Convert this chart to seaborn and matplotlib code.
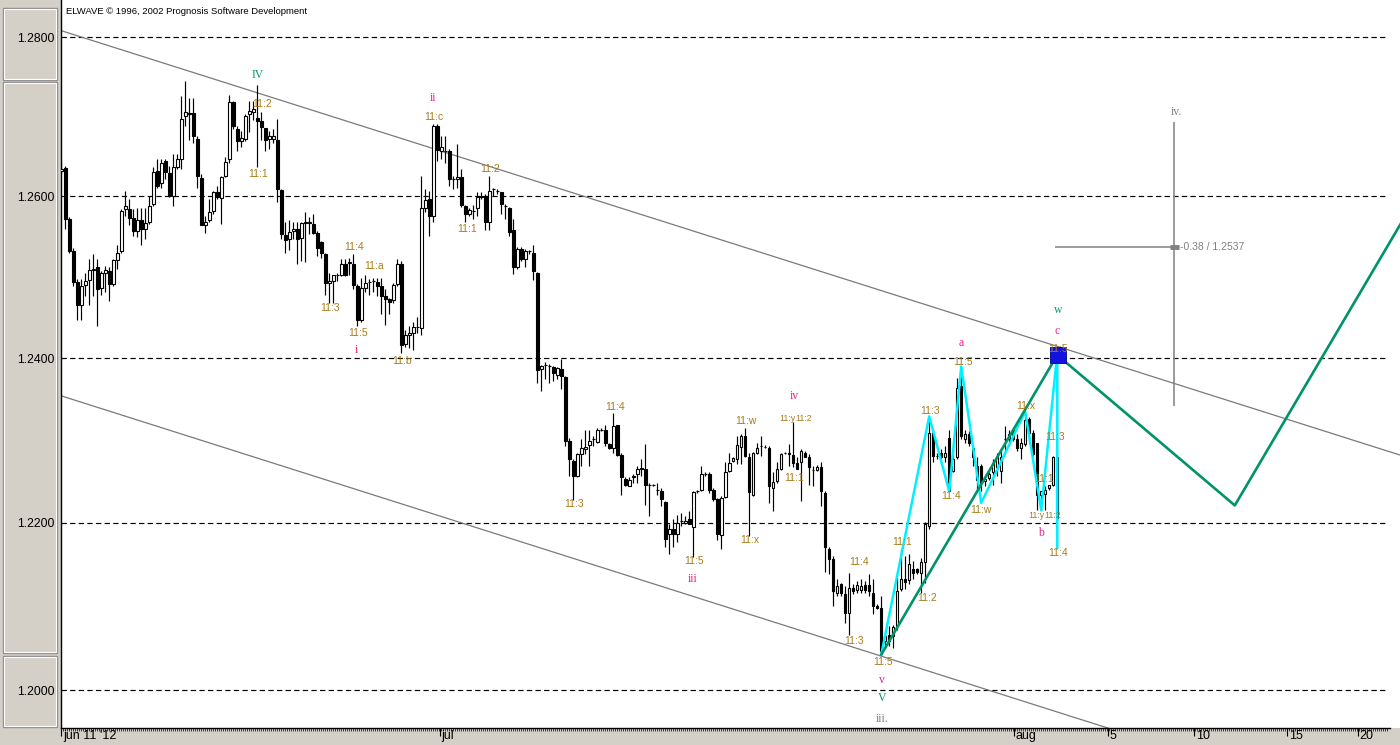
import numpy as np
import pandas as pd
import matplotlib
matplotlib.use("Agg")
import matplotlib.pyplot as plt
import seaborn as sns
from matplotlib.ticker import FixedLocator, FixedFormatter, NullLocator, NullFormatter
from matplotlib.patches import Rectangle
from matplotlib.transforms import ScaledTranslation

sns.set_theme(style="white")
plt.rcParams['font.family'] = ['Liberation Sans', 'DejaVu Sans']

# ---------------- data (4-hour EUR/USD candles) ----------------
opens = [
    1.2631, 1.2635, 1.2572, 1.2532, 1.2494, 1.2466, 1.2490, 1.2496, 1.2509, 1.2512,
    1.2486, 1.2505, 1.2508, 1.2491, 1.2521, 1.2532, 1.2584, 1.2584, 1.2573, 1.2557,
    1.2570, 1.2559, 1.2568, 1.2590, 1.2631, 1.2617, 1.2644, 1.2629, 1.2600, 1.2637,
    1.2646, 1.2700, 1.2704, 1.2704, 1.2672, 1.2623, 1.2564, 1.2570, 1.2582, 1.2605,
    1.2598, 1.2626, 1.2646, 1.2718, 1.2684, 1.2669, 1.2672, 1.2703, 1.2705, 1.2698,
    1.2694, 1.2686, 1.2672, 1.2672, 1.2671, 1.2608, 1.2552, 1.2547, 1.2557, 1.2559,
    1.2548, 1.2567, 1.2567, 1.2566, 1.2555, 1.2543, 1.2529, 1.2493, 1.2495, 1.2502,
    1.2503, 1.2516, 1.2517, 1.2516, 1.2489, 1.2447, 1.2487, 1.2494, 1.2495, 1.2494,
    1.2489, 1.2476, 1.2473, 1.2471, 1.2491, 1.2516, 1.2417, 1.2428, 1.2431, 1.2438,
    1.2437, 1.2586, 1.2597, 1.2576, 1.2688, 1.2657, 1.2657, 1.2656, 1.2622, 1.2622,
    1.2624, 1.2588, 1.2578, 1.2582, 1.2585, 1.2599, 1.2601, 1.2568, 1.2609, 1.2607,
    1.2605, 1.2588, 1.2585, 1.2558, 1.2512, 1.2535, 1.2522, 1.2532, 1.2530, 1.2505,
    1.2387, 1.2392, 1.2391, 1.2389, 1.2380, 1.2387, 1.2377, 1.2299, 1.2275, 1.2257,
    1.2283, 1.2289, 1.2294, 1.2301, 1.2298, 1.2313, 1.2313, 1.2295, 1.2291, 1.2318,
    1.2282, 1.2253, 1.2245, 1.2255, 1.2259, 1.2265, 1.2265, 1.2246, 1.2246, 1.2240,
    1.2238, 1.2225, 1.2187, 1.2192, 1.2186, 1.2202, 1.2200, 1.2204, 1.2195, 1.2238,
    1.2240, 1.2259, 1.2259, 1.2240, 1.2229, 1.2185, 1.2231, 1.2263, 1.2275, 1.2277,
    1.2292, 1.2305, 1.2280, 1.2234, 1.2285, 1.2293, 1.2292, 1.2291, 1.2242, 1.2250,
    1.2265, 1.2284, 1.2285, 1.2282, 1.2272, 1.2273, 1.2285, 1.2279, 1.2264, 1.2264,
    1.2267, 1.2236, 1.2169, 1.2156, 1.2116, 1.2126, 1.2114, 1.2092, 1.2122, 1.2119,
    1.2119, 1.2125, 1.2125, 1.2116, 1.2100, 1.2098, 1.2058, 1.2065, 1.2064, 1.2076,
    1.2120, 1.2133, 1.2131, 1.2144, 1.2144, 1.2140, 1.2153, 1.2196, 1.2309, 1.2281,
    1.2284, 1.2279, 1.2303, 1.2263, 1.2279, 1.2366, 1.2301, 1.2308, 1.2291, 1.2269,
    1.2269, 1.2250, 1.2254, 1.2261, 1.2267, 1.2263, 1.2301, 1.2301, 1.2313, 1.2302,
    1.2291, 1.2295, 1.2326, 1.2309, 1.2296, 1.2234, 1.2235, 1.2242, 1.2246, 1.2279,
]
highs = [
    1.2644, 1.2638, 1.2574, 1.2536, 1.2497, 1.2497, 1.2505, 1.2522, 1.2528, 1.2522,
    1.2507, 1.2514, 1.2512, 1.2522, 1.2539, 1.2584, 1.2607, 1.2597, 1.2584, 1.2586,
    1.2586, 1.2586, 1.2601, 1.2636, 1.2646, 1.2646, 1.2646, 1.2638, 1.2653, 1.2653,
    1.2725, 1.2744, 1.2723, 1.2723, 1.2676, 1.2628, 1.2576, 1.2597, 1.2607, 1.2613,
    1.2626, 1.2649, 1.2727, 1.2719, 1.2688, 1.2682, 1.2703, 1.2719, 1.2719, 1.2739,
    1.2705, 1.2686, 1.2682, 1.2684, 1.2697, 1.2609, 1.2568, 1.2570, 1.2568, 1.2568,
    1.2568, 1.2580, 1.2574, 1.2578, 1.2557, 1.2544, 1.2530, 1.2505, 1.2503, 1.2505,
    1.2522, 1.2522, 1.2523, 1.2528, 1.2491, 1.2499, 1.2503, 1.2497, 1.2499, 1.2499,
    1.2499, 1.2485, 1.2474, 1.2493, 1.2522, 1.2520, 1.2435, 1.2439, 1.2445, 1.2451,
    1.2626, 1.2609, 1.2607, 1.2690, 1.2690, 1.2676, 1.2676, 1.2659, 1.2626, 1.2665,
    1.2634, 1.2589, 1.2585, 1.2589, 1.2605, 1.2605, 1.2603, 1.2626, 1.2611, 1.2609,
    1.2606, 1.2591, 1.2587, 1.2572, 1.2537, 1.2537, 1.2535, 1.2533, 1.2539, 1.2506,
    1.2392, 1.2395, 1.2393, 1.2390, 1.2389, 1.2399, 1.2378, 1.2303, 1.2277, 1.2285,
    1.2301, 1.2313, 1.2313, 1.2305, 1.2315, 1.2315, 1.2319, 1.2296, 1.2333, 1.2319,
    1.2285, 1.2255, 1.2255, 1.2259, 1.2269, 1.2277, 1.2295, 1.2248, 1.2247, 1.2248,
    1.2242, 1.2226, 1.2198, 1.2204, 1.2210, 1.2212, 1.2208, 1.2214, 1.2238, 1.2240,
    1.2269, 1.2261, 1.2261, 1.2242, 1.2230, 1.2232, 1.2273, 1.2285, 1.2279, 1.2305,
    1.2307, 1.2315, 1.2285, 1.2286, 1.2297, 1.2305, 1.2294, 1.2293, 1.2261, 1.2273,
    1.2285, 1.2286, 1.2295, 1.2322, 1.2279, 1.2289, 1.2287, 1.2283, 1.2269, 1.2270,
    1.2273, 1.2238, 1.2171, 1.2160, 1.2132, 1.2128, 1.2124, 1.2140, 1.2126, 1.2130,
    1.2132, 1.2130, 1.2138, 1.2132, 1.2102, 1.2112, 1.2072, 1.2076, 1.2078, 1.2140,
    1.2168, 1.2160, 1.2162, 1.2154, 1.2146, 1.2158, 1.2201, 1.2325, 1.2313, 1.2285,
    1.2289, 1.2293, 1.2313, 1.2289, 1.2376, 1.2391, 1.2313, 1.2311, 1.2293, 1.2279,
    1.2271, 1.2256, 1.2261, 1.2277, 1.2285, 1.2291, 1.2317, 1.2313, 1.2315, 1.2307,
    1.2303, 1.2336, 1.2328, 1.2313, 1.2297, 1.2238, 1.2244, 1.2246, 1.2281, 1.2407,
]
lows = [
    1.2628, 1.2559, 1.2530, 1.2489, 1.2447, 1.2447, 1.2476, 1.2466, 1.2476, 1.2439,
    1.2478, 1.2481, 1.2470, 1.2489, 1.2510, 1.2530, 1.2576, 1.2564, 1.2551, 1.2549,
    1.2539, 1.2547, 1.2566, 1.2588, 1.2611, 1.2611, 1.2622, 1.2599, 1.2588, 1.2634,
    1.2634, 1.2688, 1.2671, 1.2667, 1.2611, 1.2564, 1.2555, 1.2568, 1.2578, 1.2597,
    1.2566, 1.2624, 1.2642, 1.2684, 1.2657, 1.2662, 1.2669, 1.2680, 1.2696, 1.2636,
    1.2671, 1.2657, 1.2659, 1.2667, 1.2593, 1.2547, 1.2530, 1.2534, 1.2547, 1.2516,
    1.2520, 1.2518, 1.2553, 1.2553, 1.2526, 1.2524, 1.2478, 1.2468, 1.2468, 1.2495,
    1.2501, 1.2501, 1.2503, 1.2485, 1.2439, 1.2445, 1.2481, 1.2478, 1.2481, 1.2476,
    1.2454, 1.2441, 1.2454, 1.2468, 1.2489, 1.2406, 1.2414, 1.2412, 1.2410, 1.2431,
    1.2429, 1.2580, 1.2551, 1.2568, 1.2644, 1.2646, 1.2642, 1.2613, 1.2609, 1.2611,
    1.2587, 1.2568, 1.2576, 1.2572, 1.2576, 1.2597, 1.2558, 1.2558, 1.2601, 1.2603,
    1.2578, 1.2572, 1.2551, 1.2504, 1.2510, 1.2520, 1.2512, 1.2529, 1.2496, 1.2370,
    1.2360, 1.2375, 1.2370, 1.2372, 1.2375, 1.2362, 1.2293, 1.2257, 1.2228, 1.2255,
    1.2269, 1.2283, 1.2269, 1.2293, 1.2297, 1.2311, 1.2293, 1.2289, 1.2285, 1.2281,
    1.2234, 1.2244, 1.2244, 1.2248, 1.2248, 1.2257, 1.2222, 1.2208, 1.2244, 1.2234,
    1.2220, 1.2171, 1.2163, 1.2171, 1.2177, 1.2196, 1.2198, 1.2198, 1.2159, 1.2236,
    1.2238, 1.2257, 1.2236, 1.2226, 1.2179, 1.2169, 1.2230, 1.2261, 1.2273, 1.2271,
    1.2271, 1.2279, 1.2184, 1.2232, 1.2283, 1.2281, 1.2290, 1.2224, 1.2214, 1.2248,
    1.2264, 1.2283, 1.2269, 1.2267, 1.2265, 1.2226, 1.2279, 1.2246, 1.2244, 1.2263,
    1.2220, 1.2141, 1.2139, 1.2100, 1.2112, 1.2112, 1.2080, 1.2066, 1.2114, 1.2116,
    1.2116, 1.2116, 1.2112, 1.2090, 1.2096, 1.2042, 1.2052, 1.2052, 1.2050, 1.2072,
    1.2118, 1.2120, 1.2126, 1.2132, 1.2138, 1.2116, 1.2128, 1.2192, 1.2273, 1.2277,
    1.2277, 1.2273, 1.2238, 1.2261, 1.2277, 1.2301, 1.2297, 1.2293, 1.2269, 1.2240,
    1.2238, 1.2244, 1.2252, 1.2246, 1.2257, 1.2248, 1.2285, 1.2293, 1.2299, 1.2287,
    1.2277, 1.2293, 1.2297, 1.2281, 1.2216, 1.2216, 1.2216, 1.2240, 1.2244, 1.2170,
]
closes = [
    1.2634, 1.2572, 1.2532, 1.2494, 1.2465, 1.2489, 1.2495, 1.2509, 1.2510, 1.2485,
    1.2505, 1.2509, 1.2491, 1.2521, 1.2530, 1.2582, 1.2588, 1.2573, 1.2557, 1.2570,
    1.2559, 1.2567, 1.2588, 1.2630, 1.2613, 1.2642, 1.2630, 1.2600, 1.2636, 1.2646,
    1.2697, 1.2705, 1.2703, 1.2675, 1.2625, 1.2564, 1.2568, 1.2581, 1.2605, 1.2599,
    1.2624, 1.2643, 1.2718, 1.2688, 1.2669, 1.2673, 1.2700, 1.2707, 1.2709, 1.2694,
    1.2687, 1.2671, 1.2676, 1.2676, 1.2609, 1.2553, 1.2546, 1.2556, 1.2559, 1.2547,
    1.2567, 1.2568, 1.2568, 1.2555, 1.2536, 1.2530, 1.2492, 1.2495, 1.2502, 1.2502,
    1.2516, 1.2502, 1.2518, 1.2490, 1.2447, 1.2487, 1.2492, 1.2494, 1.2495, 1.2489,
    1.2476, 1.2473, 1.2469, 1.2490, 1.2516, 1.2416, 1.2428, 1.2431, 1.2438, 1.2438,
    1.2585, 1.2595, 1.2576, 1.2688, 1.2658, 1.2661, 1.2657, 1.2622, 1.2622, 1.2624,
    1.2589, 1.2578, 1.2583, 1.2582, 1.2599, 1.2600, 1.2568, 1.2607, 1.2609, 1.2607,
    1.2590, 1.2588, 1.2556, 1.2512, 1.2535, 1.2522, 1.2532, 1.2532, 1.2507, 1.2386,
    1.2391, 1.2392, 1.2391, 1.2382, 1.2388, 1.2378, 1.2299, 1.2277, 1.2257, 1.2283,
    1.2290, 1.2292, 1.2299, 1.2301, 1.2313, 1.2313, 1.2296, 1.2291, 1.2317, 1.2282,
    1.2255, 1.2246, 1.2252, 1.2257, 1.2265, 1.2266, 1.2246, 1.2246, 1.2246, 1.2240,
    1.2229, 1.2181, 1.2192, 1.2186, 1.2200, 1.2202, 1.2202, 1.2199, 1.2237, 1.2238,
    1.2259, 1.2259, 1.2240, 1.2229, 1.2187, 1.2230, 1.2261, 1.2272, 1.2278, 1.2294,
    1.2305, 1.2281, 1.2237, 1.2285, 1.2291, 1.2293, 1.2292, 1.2244, 1.2249, 1.2265,
    1.2283, 1.2284, 1.2283, 1.2272, 1.2265, 1.2287, 1.2280, 1.2267, 1.2264, 1.2268,
    1.2238, 1.2171, 1.2157, 1.2118, 1.2124, 1.2116, 1.2092, 1.2122, 1.2118, 1.2125,
    1.2124, 1.2119, 1.2118, 1.2100, 1.2098, 1.2046, 1.2064, 1.2058, 1.2075, 1.2118,
    1.2132, 1.2129, 1.2151, 1.2140, 1.2141, 1.2153, 1.2198, 1.2309, 1.2281, 1.2281,
    1.2279, 1.2285, 1.2238, 1.2277, 1.2364, 1.2305, 1.2307, 1.2297, 1.2279, 1.2252,
    1.2248, 1.2253, 1.2259, 1.2272, 1.2279, 1.2279, 1.2301, 1.2307, 1.2301, 1.2291,
    1.2296, 1.2324, 1.2309, 1.2283, 1.2234, 1.2238, 1.2240, 1.2246, 1.2279, 1.2206,
]

y_ticks = [1.20, 1.22, 1.24, 1.26, 1.28]
y_tick_labels = ["1.2000", "1.2200", "1.2400", "1.2600", "1.2800"]
x_tick_pos = [0, 94.7, 238.1, 261.6, 283.3, 306.5, 324.1]
x_tick_labels = ["jun 11 '12", "jul", "aug", "5", "10", "15", "20"]

upper_channel_x = [0, 334.7]
upper_channel_y = [1.2808, 1.2282]
lower_channel_x = [0, 334.7]
lower_channel_y = [1.2354, 1.1846]

cyan_x = [205, 217, 222, 225, 230, 241, 245, 249, 249]
cyan_y = [1.2042, 1.2329, 1.2238, 1.2390, 1.2224, 1.2335, 1.2215, 1.2406, 1.2169]

green_x = [205, 249, 293.4, 335]
green_y = [1.2042, 1.2404, 1.2221, 1.2567]

proj_x = 278.3
proj_y_range = [1.2693, 1.2342]
proj_level = 1.2537
proj_start_x = 248.4
proj_text = "-0.38 / 1.2537"

gold_texts = ["11:2", "11:1", "11:c", "11:4", "11:a", "11:3", "11:5", "11:b",
              "11:2", "11:1", "11:4", "11:3", "11:w", "11:y", "11:2", "11:1",
              "11:x", "11:5", "11:5", "11:3", "11:x", "11:3", "11:4", "11:w",
              "11:1", "11:y", "11:2", "11:4", "11:1", "11:4", "11:2", "11:3",
              "11:5", "11:5"]
gold_x = [50.2, 49.2, 93.2, 73.2, 78.2, 67.2, 74.2, 85.2,
          107.2, 101.4, 138.4, 128.2, 171.2, 181.6, 185.6, 183.2,
          172.2, 158.2, 225.4, 217.2, 241.2, 248.4, 222.4, 229.9,
          245.6, 243.8, 247.8, 249.2, 210.2, 199.4, 216.4, 198.2,
          205.4, 249.2]
gold_y = [1.27155, 1.26276, 1.26992, 1.25371, 1.25133, 1.24617, 1.24310, 1.23966,
          1.26341, 1.25594, 1.23404, 1.22226, 1.23233, 1.23270, 1.23270, 1.22541,
          1.21792, 1.21540, 1.23954, 1.23355, 1.23416, 1.23038, 1.22323, 1.22154,
          1.22529, 1.22094, 1.22094, 1.21636, 1.21768, 1.21528, 1.21096, 1.20583,
          1.20333, 1.24113]
gold_small = {13, 14, 25, 26}

pink_texts = ["i", "ii", "iii", "iv", "v", "a", "b", "c"]
pink_x = [73.9, 92.9, 157.9, 183.4, 205.2, 224.9, 244.9, 248.9]
pink_y = [1.24101, 1.27231, 1.21324, 1.23538, 1.20119, 1.24187, 1.21877, 1.24334]

green_texts = ["IV", "V", "w"]
green_lx = [49.2, 205.2, 249.2]
green_ly = [1.27520, 1.19905, 1.24593]

gray_texts = ["iii.", "iv."]
gray_x = [205.2, 278.9]
gray_y = [1.19657, 1.27055]

target_x = [249.2]
target_y = [1.2404]

# ---------------- figure ----------------
W, H = 1400, 745
PANEL = '#D4D0C8'
X_RIGHT = 334.7     # x-limit at the figure's right edge
X_END = 331.6       # where grid lines / axis line stop
fig = plt.figure(figsize=(W / 100, H / 100), dpi=100, facecolor=PANEL)
ax = fig.add_axes([61 / W, (H - 728) / H, (W - 61) / W, 728 / H])
ax.set_facecolor('white')
ax.set_yscale('log')

df = pd.DataFrame({'open': opens, 'high': highs, 'low': lows, 'close': closes})
df['idx'] = np.arange(len(df))
up = df['close'] >= df['open']
body_bottom = np.minimum(df['open'], df['close'])
body_h = (df['close'] - df['open']).abs()

# grid lines
ax.hlines(y_ticks, -0.08, X_END, color='black', lw=0.85, ls=(0, (4.5, 2.8)), zorder=1)

# channel lines
sns.lineplot(x=upper_channel_x, y=upper_channel_y, ax=ax, color='#7a7a7a', lw=0.9,
             estimator=None, sort=False, zorder=2)
sns.lineplot(x=lower_channel_x, y=lower_channel_y, ax=ax, color='#7a7a7a', lw=0.9,
             estimator=None, sort=False, zorder=2)

# candles
ax.vlines(df['idx'], df['low'], df['high'], color='black', lw=0.85, zorder=3)
ax.bar(df['idx'][up], body_h[up], bottom=body_bottom[up], width=0.62,
       color='white', edgecolor='black', linewidth=0.8, zorder=4)
ax.bar(df['idx'][~up], body_h[~up], bottom=body_bottom[~up], width=0.62,
       color='black', edgecolor='black', linewidth=0.8, zorder=4)

# wave zigzags
sns.lineplot(x=cyan_x, y=cyan_y, ax=ax, color='#00F0FF', lw=1.8,
             estimator=None, sort=False, zorder=5)
sns.lineplot(x=green_x, y=green_y, ax=ax, color='#00936A', lw=1.9,
             estimator=None, sort=False, zorder=6)

# projection (iv.) lines
ax.vlines([proj_x], proj_y_range[1], proj_y_range[0], color='#808080', lw=1.1, zorder=5)
ax.hlines([proj_level], proj_start_x, proj_x, color='#808080', lw=1.1, zorder=5)
ax.hlines([proj_level], proj_x - 1.2, proj_x + 1.2, color='#808080', lw=3.5, zorder=5)
ax.text(proj_x + 1.4, proj_level, proj_text, color='#808080', fontsize=7.5,
        ha='left', va='center', zorder=7)

# target square
ax.plot(target_x, target_y, marker='s', markersize=11, color='#1212E0',
        markeredgecolor='#000080', markeredgewidth=0.6, zorder=7, linestyle='none')

# labels
for k, (t, x, y) in enumerate(zip(gold_texts, gold_x, gold_y)):
    ax.text(x, y, t, color='#A67C1A', fontsize=6.3 if k in gold_small else 7.5,
            ha='center', va='center', zorder=8)
serif = ['Liberation Serif', 'DejaVu Serif']
for t, x, y in zip(pink_texts, pink_x, pink_y):
    ax.text(x, y, t, color='#F0208C', fontsize=8.5, ha='center', va='center',
            family=serif, zorder=8)
for t, x, y in zip(green_texts, green_lx, green_ly):
    ax.text(x, y, t, color='#00996B', fontsize=8.5, ha='center', va='center',
            family=serif, zorder=8)
for t, x, y in zip(gray_texts, gray_x, gray_y):
    ax.text(x, y, t, color='#808080', fontsize=8.5, ha='center', va='center',
            family=serif, zorder=8)

# axes limits / scales
ax.set_xlim(-0.08, X_RIGHT)
ax.set_ylim(1.19551, 1.28469)
ax.set_xlabel('')
ax.set_ylabel('')

ax.yaxis.set_major_locator(FixedLocator(y_ticks))
ax.yaxis.set_major_formatter(FixedFormatter(y_tick_labels))
ax.yaxis.set_minor_locator(NullLocator())
ax.yaxis.set_minor_formatter(NullFormatter())
ax.tick_params(axis='y', which='both', length=0, pad=4.5, labelsize=8.8, colors='black')

ax.xaxis.set_major_locator(FixedLocator(x_tick_pos))
ax.xaxis.set_major_formatter(FixedFormatter(x_tick_labels))
ax.xaxis.set_minor_locator(FixedLocator(np.arange(0, X_END, 0.5)))
ax.tick_params(axis='x', which='major', bottom=True, length=6, width=0.8,
               direction='out', pad=-4.6, labelsize=9, colors='black')
ax.tick_params(axis='x', which='minor', bottom=True, length=2.0, width=0.5,
               direction='out', colors='black')
offset = ScaledTranslation(1.2 / 72, 0, fig.dpi_scale_trans)
for lbl in ax.get_xticklabels():
    lbl.set_horizontalalignment('left')
    lbl.set_transform(lbl.get_transform() + offset)

for side in ['top', 'right']:
    ax.spines[side].set_visible(False)
for side in ['left', 'bottom']:
    ax.spines[side].set_visible(True)
    ax.spines[side].set_color('black')
    ax.spines[side].set_linewidth(1.0)
ax.spines['bottom'].set_bounds(-0.08, X_END + 0.5)
ax.grid(False)

# left panel boxes (bevelled)
for (x0, y0, x1, y1) in [(3, 8, 57, 80), (3, 82, 57, 653), (3, 656, 57, 727)]:
    fig.add_artist(Rectangle((x0 / W, 1 - y1 / H), (x1 - x0) / W, (y1 - y0) / H,
                             transform=fig.transFigure, facecolor='none',
                             edgecolor='#8C8C8C', lw=1.0))
    fig.add_artist(Rectangle(((x0 + 1) / W, 1 - (y1 - 1) / H), (x1 - x0 - 2) / W,
                             (y1 - y0 - 2) / H, transform=fig.transFigure,
                             facecolor='none', edgecolor='#FFFFFF', lw=0.8))

fig.text(66 / W, 1 - 12 / H, "ELWAVE \u00a9 1996, 2002 Prognosis Software Development",
         fontsize=6.8, ha='left', va='center', color='black')

fig.savefig("out.png", dpi=100, facecolor=fig.get_facecolor())
